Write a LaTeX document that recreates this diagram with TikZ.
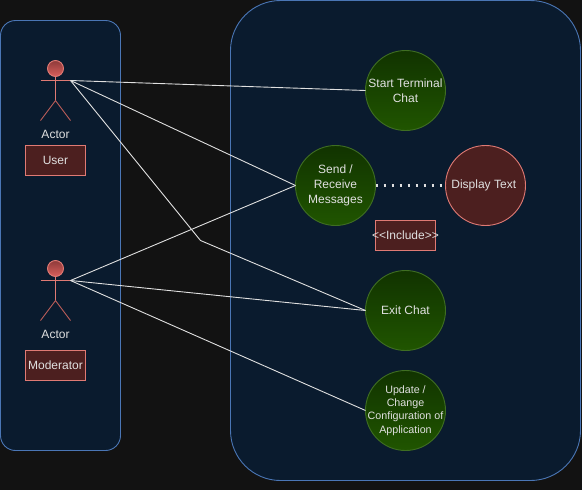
\documentclass[tikz,border=0pt]{standalone}
\usepackage{fontspec}
\setmainfont{Liberation Sans}
\definecolor{bgc}{HTML}{121212}
\definecolor{panelc}{HTML}{0A1B2E}
\definecolor{panelb}{HTML}{4A76B5}
\definecolor{redf}{HTML}{4C1F1F}
\definecolor{redb}{HTML}{E07A74}
\definecolor{legc}{HTML}{B85C58}
\definecolor{txt}{HTML}{E0E0E0}
\definecolor{gtop}{HTML}{113300}
\definecolor{gbot}{HTML}{205500}
\definecolor{gbord}{HTML}{3F6E22}
\definecolor{htop}{HTML}{8E3A3A}
\definecolor{hbot}{HTML}{D9605C}
\tikzset{
  x=1pt,y=-1pt,
  every node/.style={text=txt,font=\fontsize{12}{15}\selectfont,inner sep=0pt,outer sep=0pt,align=center},
  panel/.style={draw=panelb,fill=panelc,line width=0.9pt},
  usecase/.style={circle,inner sep=-20pt,minimum size=80pt,draw=gbord,line width=0.9pt,top color=gtop,bottom color=gbot},
  redcase/.style={circle,inner sep=-20pt,minimum size=80pt,draw=redb,line width=0.9pt,fill=redf},
  tag/.style={draw=redb,fill=redf,line width=0.9pt,minimum width=60pt,minimum height=30pt,inner xsep=-5pt},
  conn/.style={draw=txt,line width=0.9pt},
  dotconn/.style={draw=txt,line width=2.2pt,dash pattern=on 2.2pt off 5.8pt},
  figure/.style={draw=redb,line width=0.9pt},
  legs/.style={draw=legc,line width=0.9pt},
  head/.style={circle,minimum size=16pt,draw=redb,line width=0.9pt,top color=htop,bottom color=hbot},
}
\begin{document}
\begin{tikzpicture}
\useasboundingbox (0,0) rectangle (582,490);
\fill[bgc] (0,0) rectangle (582,490);
\draw[panel,rounded corners=15pt] (0.5,20.5) rectangle (120.5,450.5);
\draw[panel,rounded corners=50pt] (230.5,0.5) rectangle (580.5,480.5);

% actors
\node[head] (h1) at (55.5,68.5) {};
\coordinate (a1l) at (40.5,80.5);
\coordinate (a1) at (70.5,80.5);
\coordinate (b1) at (55.5,100.5);
\coordinate (l1) at (40.5,120.5);
\coordinate (r1) at (70.5,120.5);
\draw[figure] (a1l) -- (a1);
\draw[figure] (h1.south) -- (b1);
\draw[legs] (l1) -- (b1) -- (r1);
\node (t1) at (55.5,134) {Actor};
\node[tag] (user) at (55.5,160.5) {User};

\node[head] (h2) at (55.5,268.5) {};
\coordinate (a2l) at (40.5,280.5);
\coordinate (a2) at (70.5,280.5);
\coordinate (b2) at (55.5,300.5);
\coordinate (l2) at (40.5,320.5);
\coordinate (r2) at (70.5,320.5);
\draw[figure] (a2l) -- (a2);
\draw[figure] (h2.south) -- (b2);
\draw[legs] (l2) -- (b2) -- (r2);
\node (t2) at (55.5,334) {Actor};
\node[tag] (mod) at (55.5,365.5) {Moderator};

% use cases
\node[usecase] (start) at (405.5,90.5) {Start Terminal\\Chat};
\node[usecase] (send) at (335.5,185.5) {Send /\\Receive\\Messages};
\node[redcase] (disp) at (485.5,185.5) {\hspace{-3.5pt}Display Text};
\node[usecase] (exit) at (405.5,310.5) {Exit Chat};
\node[usecase,font=\fontsize{10.7}{13.4}\selectfont] (upd) at (405.5,410.5) {Update /\\Change\\Configuration of\\Application};
\node[tag] (inc) at (405.5,235.5) {<{}<Include>{}>};

% connectors
\coordinate (bend) at (200.5,240.5);
\draw[conn] (a1) -- (start.west);
\draw[conn] (a1) -- (send.west);
\draw[conn] (a1) -- (bend) -- (exit.west);
\draw[conn] (a2) -- (send.west);
\draw[conn] (a2) -- (exit.west);
\draw[conn] (a2) -- (upd.west);
\draw[dotconn] (send.east) ++(0.2,0) -- (disp.west);
\end{tikzpicture}
\end{document}
